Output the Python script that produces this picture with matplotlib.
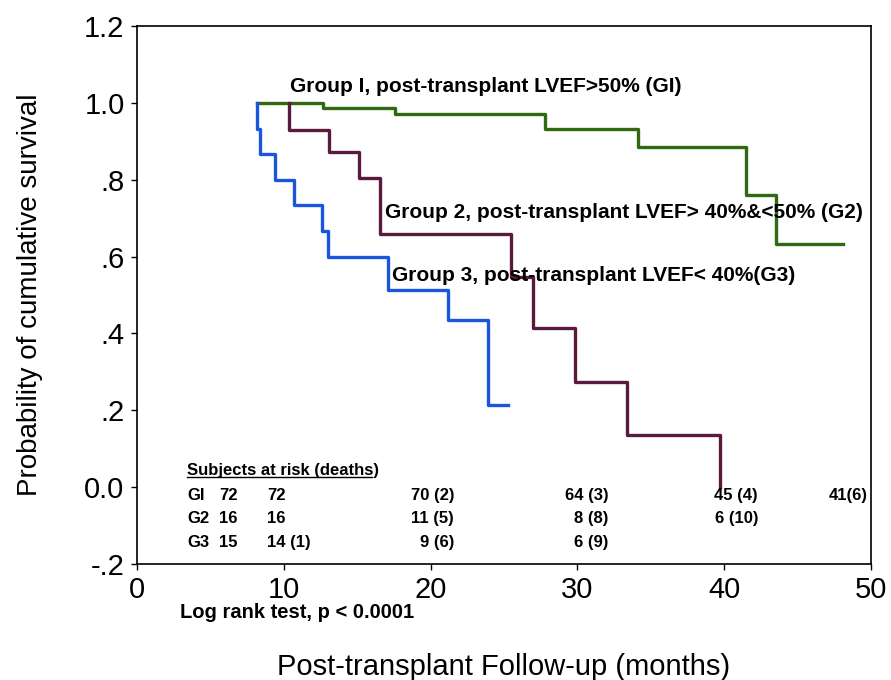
import matplotlib
matplotlib.use("Agg")
import matplotlib.pyplot as plt

plt.rcParams['font.family'] = ['Liberation Sans', 'DejaVu Sans']

# Kaplan-Meier step curves (months, survival)
g1_t = [8.2, 12.7, 17.6, 27.8, 34.1, 41.5, 43.5, 48.1]
g1_s = [1.0, 0.986, 0.972, 0.932, 0.885, 0.76, 0.633, 0.633]

g2_t = [10.35, 10.35, 13.1, 15.1, 16.55, 25.5, 27.0, 29.8, 33.4, 39.7]
g2_s = [1.0, 0.93, 0.872, 0.805, 0.659, 0.547, 0.414, 0.273, 0.135, 0.0]

g3_t = [8.2, 8.2, 8.4, 9.4, 10.7, 12.6, 13.0, 17.1, 21.2, 23.9, 25.3]
g3_s = [1.0, 0.933, 0.867, 0.80, 0.733, 0.667, 0.60, 0.513, 0.435, 0.214, 0.214]

group_labels = ["Group I, post-transplant LVEF>50% (GI)",
                "Group 2, post-transplant LVEF> 40%&<50% (G2)",
                "Group 3, post-transplant LVEF< 40%(G3)"]

# subjects at risk table
risk_names = ["GI", "G2", "G3"]
risk_n0 = ["72", "16", "15"]
risk_left = [["72"], ["16"], ["14 (1)"]]
risk_right = [["70 (2)", "64 (3)", "45 (4)", "41(6)"],
              ["11 (5)", "8 (8)", "6 (10)", ""],
              ["9 (6)", "6 (9)", "", ""]]

yticks = [-0.2, 0.0, 0.2, 0.4, 0.6, 0.8, 1.0, 1.2]
ytick_labels = ["-.2", "0.0", ".2", ".4", ".6", ".8", "1.0", "1.2"]
xticks = [0, 10, 20, 30, 40, 50]

fig = plt.figure(figsize=(8.91, 6.8), dpi=100)
ax = fig.add_axes([0.1538, 0.1706, 0.8238, 0.7912])

lw = 2.4
ax.step(g1_t, g1_s, where='post', color='#2f6a12', lw=lw)
ax.step(g2_t, g2_s, where='post', color='#5a1a3e', lw=lw)
ax.step(g3_t, g3_s, where='post', color='#1a55e0', lw=lw)

ax.set_xlim(0, 50)
ax.set_ylim(-0.2, 1.2)
ax.set_yticks(yticks)
ax.set_yticklabels(ytick_labels)
ax.set_xticks(xticks)
ax.tick_params(axis='both', labelsize=21, length=4, width=1, direction='out', pad=5)
for s in ax.spines.values():
    s.set_linewidth(1.2)

# curve labels
lab_kw = dict(fontsize=15, fontweight='bold', va='center', ha='left')
ax.text(10.42, 1.042, group_labels[0], **lab_kw)
ax.text(16.9, 0.714, group_labels[1], **lab_kw)
ax.text(17.37, 0.552, group_labels[2], **lab_kw)

# risk table
tab_kw = dict(fontsize=12, fontweight='bold', va='center')
ax.text(3.4, 0.044, "Subjects at risk (deaths)", ha='left', **tab_kw)
ax.plot([3.4, 16.0], [0.026, 0.026], color='black', lw=1)
row_y = [-0.021, -0.081, -0.143]
left_cols = [3.4, 5.6, 8.86]
right_cols = [21.6, 32.1, 42.3, 49.8]
for i in range(3):
    ax.text(left_cols[0], row_y[i], risk_names[i], ha='left', **tab_kw)
    ax.text(left_cols[1], row_y[i], risk_n0[i], ha='left', **tab_kw)
    ax.text(left_cols[2], row_y[i], risk_left[i][0], ha='left', **tab_kw)
    for j, s in enumerate(risk_right[i]):
        ax.text(right_cols[j], row_y[i], s, ha='right', **tab_kw)

ax.text(2.93, -0.326, "Log rank test, p < 0.0001", ha='left', va='center',
        fontsize=14.5, fontweight='bold', clip_on=False)

ax.set_xlabel("Post-transplant Follow-up (months)", fontsize=21)
ax.xaxis.set_label_coords(0.5, -0.165)
ax.set_ylabel("Probability of cumulative survival", fontsize=20)
ax.yaxis.set_label_coords(-0.128, 0.5)

fig.savefig("out.png", dpi=100)
